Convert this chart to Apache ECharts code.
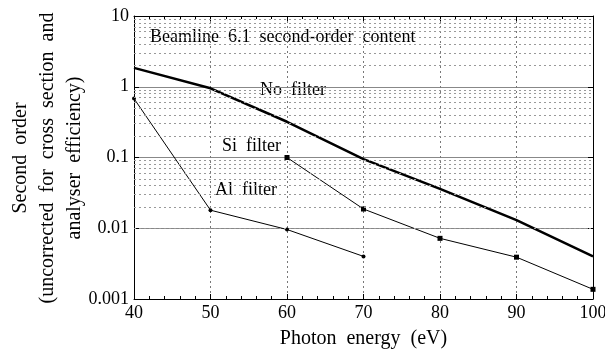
<!DOCTYPE html>
<html>
<head>
<meta charset="utf-8">
<script src="https://cdn.jsdelivr.net/npm/echarts@6/dist/echarts.min.js"></script>
<style>
  html, body { margin: 0; padding: 0; background: #fff; }
  #chart { width: 605px; height: 351px; }
</style>
</head>
<body>
<div id="chart"></div>
<script>
// photon energy (eV)
const energy = [40, 50, 60, 70, 80, 90, 100];

// second-order content
const noFilter = [1.85, 0.95, 0.32, 0.095, 0.036, 0.013, 0.004];
const siFilter = [null, null, 0.1, 0.0187, 0.0072, 0.0039, 0.00137];
const alFilter = [0.68, 0.018, 0.0096, 0.004, null, null, null];

// minor grid values on the log axis
const minorGrid = [
  0.002, 0.003, 0.004, 0.005, 0.006, 0.007, 0.008, 0.009,
  0.02, 0.03, 0.04, 0.05, 0.06, 0.07, 0.08, 0.09,
  0.2, 0.3, 0.4, 0.5, 0.6, 0.7, 0.8, 0.9,
  2, 3, 4, 5, 6, 7, 8, 9
];

const yTitle = ['Second  order', '(uncorrected  for  cross  section  and', 'analyser  efficiency)'];

const font = 'Liberation Serif, Times New Roman, serif';

const pairs = arr => energy.map((e, i) => [e, arr[i]]).filter(p => p[1] != null);

const chart = echarts.init(document.getElementById('chart'));

const option = {
  animation: false,
  grid: { left: 134, right: 12, top: 16, bottom: 52, outerBoundsMode: 'none', containLabel: false },
  xAxis: [
    {
      type: 'value', min: 40, max: 100, interval: 10,
      name: 'Photon  energy  (eV)', nameLocation: 'middle', nameGap: 30,
      nameTextStyle: { fontFamily: font, fontSize: 20, color: '#000' },
      axisLine: { lineStyle: { color: '#000', width: 1 } },
      axisTick: { inside: true, length: 5, lineStyle: { color: '#000' } },
      minorTick: { show: true, splitNumber: 5, length: 3, lineStyle: { color: '#000' } },
      axisLabel: { fontFamily: font, fontSize: 18, color: '#000', margin: 5 },
      splitLine: { show: true, lineStyle: { color: '#777', type: [2, 3], width: 1 } }
    },
    {
      type: 'value', position: 'top', min: 40, max: 100, interval: 10,
      axisLine: { show: true, lineStyle: { color: '#000' } },
      axisTick: { inside: true, length: 5, lineStyle: { color: '#000' } },
      minorTick: { show: true, splitNumber: 5, length: 3, lineStyle: { color: '#000' } },
      axisLabel: { show: false },
      splitLine: { show: false }
    }
  ],
  yAxis: [
    {
      type: 'log', min: 0.001, max: 10, logBase: 10,
      axisLine: { show: true, lineStyle: { color: '#000', width: 1 } },
      axisTick: { inside: true, length: 5, lineStyle: { color: '#000' } },
      axisLabel: { fontFamily: font, fontSize: 18, color: '#000', margin: 5,
        formatter: v => String(+v.toPrecision(1)) },
      splitLine: { show: true, lineStyle: { color: '#888', width: 1 } }
    },
    {
      type: 'log', min: 0.001, max: 10, logBase: 10, position: 'right',
      axisLine: { show: true, lineStyle: { color: '#000' } },
      axisTick: { inside: true, length: 5, lineStyle: { color: '#000' } },
      axisLabel: { show: false },
      splitLine: { show: false }
    }
  ],
  graphic: [
    { type: 'text', left: 150, top: 28,
      style: { text: 'Beamline  6.1  second-order  content', font: '18px ' + font, fill: '#000' } },
    { type: 'text', left: 260, top: 81,
      style: { text: 'No  filter', font: '18px ' + font, fill: '#000' } },
    { type: 'text', left: 222, top: 137,
      style: { text: 'Si  filter', font: '18px ' + font, fill: '#000' } },
    { type: 'text', left: 215, top: 181,
      style: { text: 'Al  filter', font: '18px ' + font, fill: '#000' } },
    ...yTitle.map((t, i) => ({
      type: 'text', x: 21 + i * 27, y: 158, rotation: Math.PI / 2,
      style: { text: t, font: '20px ' + font, fill: '#000', align: 'center', verticalAlign: 'middle' }
    }))
  ],
  series: [
    {
      name: 'grid', type: 'line', data: [], silent: true,
      markLine: {
        silent: true, symbol: 'none', label: { show: false },
        lineStyle: { color: '#999', type: [2, 3], width: 1 },
        data: minorGrid.map(v => ({ yAxis: v }))
      }
    },
    {
      name: 'No filter', type: 'line', data: pairs(noFilter),
      showSymbol: false, lineStyle: { color: '#000', width: 2.5 }
    },
    {
      name: 'Si filter', type: 'line', data: pairs(siFilter),
      symbol: 'rect', symbolSize: 5,
      itemStyle: { color: '#000' }, lineStyle: { color: '#000', width: 1 }
    },
    {
      name: 'Al filter', type: 'line', data: pairs(alFilter),
      symbol: 'circle', symbolSize: 4,
      itemStyle: { color: '#000' }, lineStyle: { color: '#000', width: 1 }
    }
  ]
};

chart.setOption(option);
</script>
</body>
</html>
